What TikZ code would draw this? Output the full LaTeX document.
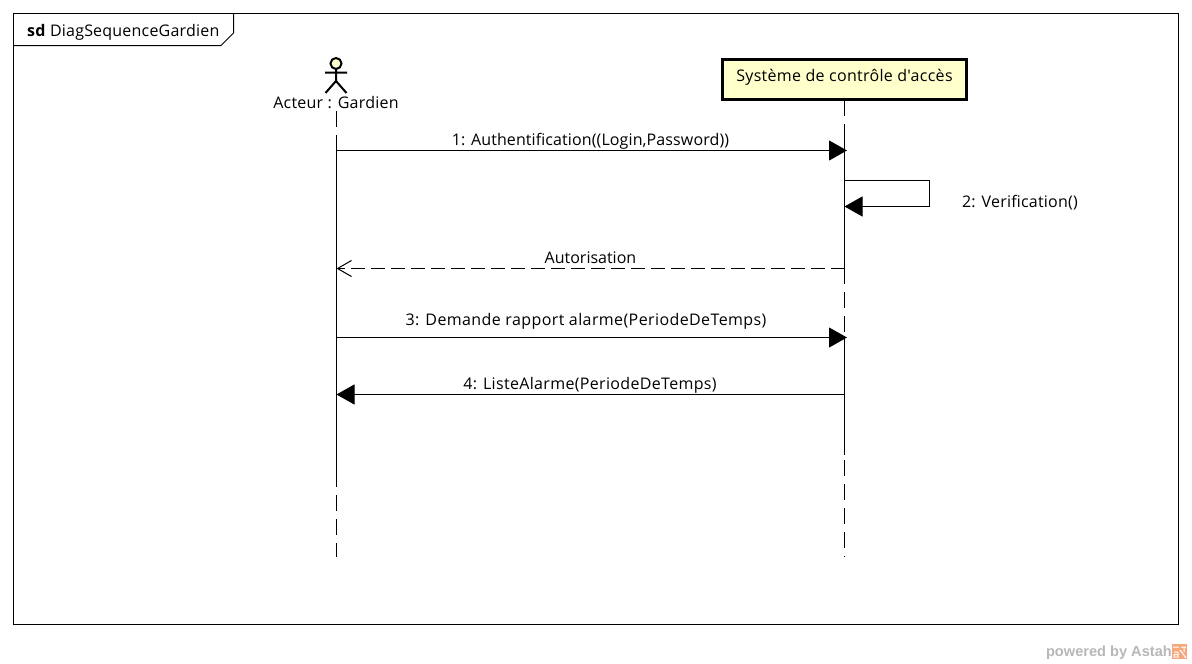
\documentclass[tikz,border=0pt]{standalone}
\usepackage{fontspec}
\setmainfont{Open Sans}
\newfontfamily\plainf{Open Sans}
\newfontfamily\wm{Liberation Sans}
\usetikzlibrary{arrows.meta}
\definecolor{fillY}{HTML}{FFFFCC}
\definecolor{iconO}{HTML}{F6A77C}
\newcommand{\spaced}[2]{{\addfontfeature{LetterSpace=#1}#2}}
\tikzset{
  frameline/.style={draw=black,line width=1pt},
  solidlife/.style={draw=black,line width=1pt},
  lifeline/.style={draw=black,line width=1pt,dash pattern=on 16pt off 8pt},
  msg/.style={draw=black,line width=1pt,-{Triangle[length=18pt,width=20pt,fill=black]}},
  ret/.style={draw=black,line width=1pt,dash pattern=on 14pt off 6pt,-{Straight Barb[length=14pt,width=16pt,line width=1pt]}},
  lbl/.style={font=\fontsize{16pt}{18pt}\selectfont,inner sep=0pt,text=black,anchor=base},
  figure/.style={line width=2pt,draw=black}
}
\begin{document}
\begin{tikzpicture}[x=1pt,y=-1pt]
\useasboundingbox (0,0) rectangle (1192,664);
\fill[white] (0,0) rectangle (1192,664);
\draw[frameline] (13.5,13.5) rectangle (1178.5,624.5);
\draw[frameline] (13.5,45.5) -- (221,45.5) -- (233.5,33) -- (233.5,13.5);
\node[lbl,anchor=base west] (title) at (27,36.5) {\spaced{1.3}{\textbf{sd} DiagSequenceGardien}};
% actor
\coordinate (a) at (336.5,111);
\draw[figure,fill=fillY] (336,63.5) circle (5.5pt);
\draw[figure] (336,69) -- (336,81) (325,72.5) -- (347,72.5) (325.5,93) -- (336,81) -- (346.5,93);
\node[lbl] (actor) at (336,108) {\spaced{1.5}{Acteur : Gardien}};
% system
\node[draw=black,line width=3pt,fill=fillY,minimum width=244pt,minimum height=40pt,inner sep=0pt,font=\fontsize{16pt}{18pt}\selectfont\plainf] (sys) at (844.5,79.5) {\raisebox{8pt}{\spaced{1.9}{Système de contrôle d'accès}}};
% lifelines
\coordinate (aEnd) at (336.5,557);
\coordinate (sEnd) at (844.5,557);
\draw[lifeline,dash phase=1pt] (sys.south -| sEnd) -- (sEnd);
\draw[lifeline] (a) -- (aEnd);
\draw[solidlife] (336.5,135) -- (336.5,487);
\draw[solidlife] (844.5,140) -- (844.5,280);
\draw[solidlife] (844.5,337) -- (844.5,455);
% messages
\draw[msg] (336.5,150.5) -- (847,150.5);
\node[lbl] (m1) at (590.5,145) {\spaced{0.7}{1: Authentification((Login,Password))}};
\draw[solidlife] (844.5,180.5) -- (929.5,180.5) -- (929.5,206.5);
\draw[msg] (929.5,206.5) -- (844.5,206.5);
\node[lbl] (m2) at (1020,207) {\spaced{1.5}{2: Verification()}};
\draw[ret] (844.5,268.5) -- (336.5,268.5);
\node[lbl] (m3) at (590.5,263) {Autorisation};
\draw[msg] (336.5,337.5) -- (847,337.5);
\node[lbl] (m4) at (586,325) {\spaced{2.5}{3: Demande rapport alarme(PeriodeDeTemps)}};
\draw[msg] (844.5,394.5) -- (336.5,394.5);
\node[lbl] (m5) at (590,389) {\spaced{2.1}{4: ListeAlarme(PeriodeDeTemps)}};
% watermark
\node[font=\wm\bfseries\fontsize{14.6pt}{16pt}\selectfont,text=black!28,inner sep=0pt,anchor=base east] (wm) at (1172,656) {powered by Astah};
\fill[iconO] (1172,644) rectangle (1187,659);
\draw[white,line width=1pt] (1173,647) -- (1179,647) (1181,647) -- (1186,647) (1184,647) -- (1184,652) (1180,650) -- (1186,658) (1174,652) -- (1178,652) -- (1178,657) -- (1174,657) -- (1174,654.5) -- (1178,654.5);
\end{tikzpicture}
\end{document}
